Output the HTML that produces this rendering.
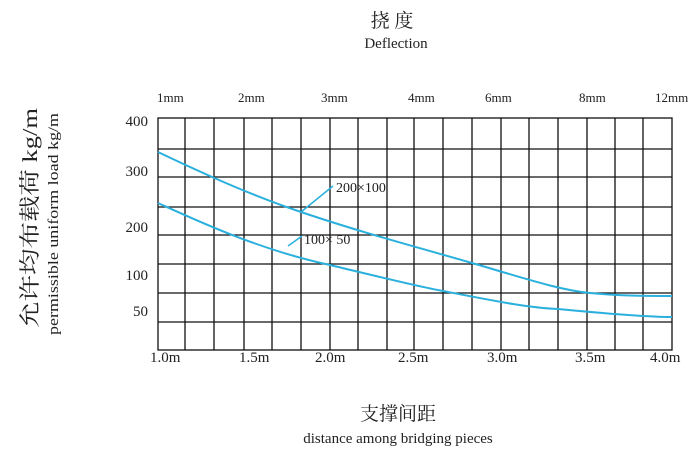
<!DOCTYPE html>
<html><head><meta charset="utf-8"><style>
html,body{margin:0;padding:0;background:#fff;}
svg{display:block;}
text{font-family:"Liberation Serif","Noto Serif CJK SC",serif;fill:#222;}
</style></head><body>
<svg width="700" height="451" xmlns="http://www.w3.org/2000/svg">
<text x="392" y="27" font-size="19" text-anchor="middle">挠  度</text>
<text x="396" y="48" font-size="15" text-anchor="middle">Deflection</text>
<g font-size="13">
<text x="157" y="102">1mm</text><text x="238" y="102">2mm</text><text x="321" y="102">3mm</text>
<text x="408" y="102">4mm</text><text x="485" y="102">6mm</text><text x="579" y="102">8mm</text>
<text x="655" y="102">12mm</text>
</g>
<g font-size="15" text-anchor="end">
<text x="148" y="126">400</text><text x="148" y="176">300</text><text x="148" y="232">200</text>
<text x="148" y="280">100</text><text x="148" y="316">50</text>
</g>
<g stroke="#111" stroke-width="1.3" fill="none">
<rect x="158" y="118" width="514" height="232"/>
<path d="M158 149H672M158 177H672M158 207H672M158 235H672M158 264H672M158 293H672M158 322H672"/>
<path d="M185 118V350M214 118V350M244 118V350M272 118V350M301 118V350M330 118V350M358 118V350M387 118V350M414 118V350M443 118V350M472 118V350M501 118V350M529 118V350M558 118V350M587 118V350M615 118V350M643 118V350"/>
</g>
<g stroke="#2ab0dd" stroke-width="2" fill="none">
<path d="M158 152 C200 172,250 195,301 212 C360 232,420 248,472 263 C530 280,560 290,590 293 C620 296,650 296,672 296"/>
<path d="M158 203 C200 222,260 250,330 265 C380 277,420 287,443 291 C500 302,530 308,558 309 C610 314,650 317,672 317"/>
<path d="M301 212 L333 186" stroke-width="1.5"/>
<path d="M288 246 L302 236" stroke-width="1.5"/>
</g>
<text x="336" y="192" font-size="14">200×100</text>
<text x="304" y="244" font-size="14">100×  50</text>
<g font-size="15">
<text x="150" y="362">1.0m</text><text x="239" y="362">1.5m</text><text x="315" y="362">2.0m</text>
<text x="398" y="362">2.5m</text><text x="487" y="362">3.0m</text><text x="575" y="362">3.5m</text>
<text x="650" y="362">4.0m</text>
</g>
<text x="398" y="420" font-size="19" text-anchor="middle">支撑间距</text>
<text x="398" y="443" font-size="15" text-anchor="middle">distance among bridging pieces</text>
<text transform="translate(37,218) rotate(-90)" font-size="21" text-anchor="middle" textLength="220" lengthAdjust="spacingAndGlyphs">允许均布载荷  kg/m</text>
<text transform="translate(58,224) rotate(-90)" font-size="15" text-anchor="middle" textLength="222" lengthAdjust="spacingAndGlyphs">permissible uniform load kg/m</text>
</svg>
</body></html>
